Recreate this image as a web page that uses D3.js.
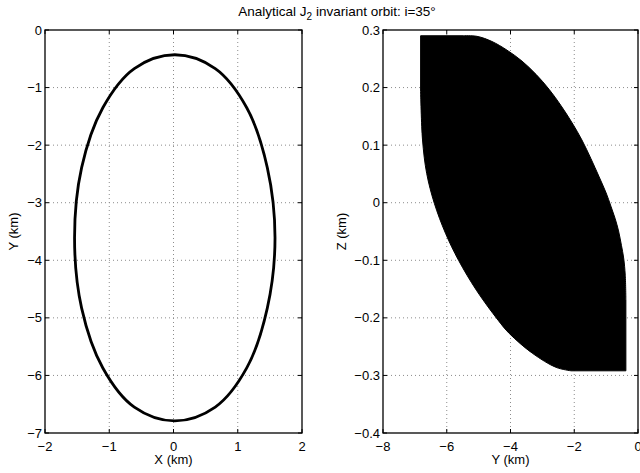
<!doctype html>
<meta charset="utf-8">
<title>Analytical J2 invariant orbit</title>
<style>
    html, body { margin: 0; background: white; }
    svg { display: block; font-family: "Liberation Sans", Arial, Helvetica, sans-serif; }
    .grid line { stroke: #8c8c8c; stroke-dasharray: 1,3; stroke-width: 1; }
    .tick-label { font-size: 13px; fill: black; }
    .axis-label { font-size: 13px; fill: black; }
    .title { font-size: 13.5px; fill: black; }
</style>
<svg width=640 height=473></svg>
<script src="https://d3js.org/d3.v7.min.js"></script>
<script>
    // left panel: X vs Y orbit (km)
    var orbitX = [1.58, 1.46, 1.14, 0.65, 0.02, -0.61, -1.10, -1.43, -1.54, -1.43, -1.10, -0.61, 0.02, 0.65, 1.14, 1.46];
    var orbitY = [-3.61, -2.39, -1.35, -0.67, -0.43, -0.67, -1.35, -2.39, -3.61, -4.83, -5.87, -6.55, -6.79, -6.55, -5.87, -4.83];

    // right panel: outline of the filled Y vs Z band (km)
    // top-left corner, then the upper-right edge (curved)
    var bandTopY = [-6.82, -5.49, -5.05, -4.58, -4.11, -3.64, -3.20, -2.79, -2.42, -2.07, -1.76, -1.48,
                    -1.22, -1.00, -0.85, -0.72, -0.61, -0.52, -0.45, -0.40, -0.38];
    var bandTopZ = [0.290, 0.290, 0.289, 0.280, 0.265, 0.246, 0.223, 0.197, 0.169, 0.139, 0.109, 0.077,
                    0.045, 0.017, -0.006, -0.027, -0.049, -0.074, -0.096, -0.126, -0.169];
    // bottom-right corner, then the lower-left edge (curved) back up to the left side
    var bandLowY = [-0.38, -2.10, -2.57, -3.30, -4.04, -4.39, -5.07, -5.63, -6.04, -6.39, -6.63, -6.76, -6.82];
    var bandLowZ = [-0.292, -0.292, -0.286, -0.262, -0.227, -0.204, -0.152, -0.100, -0.053, -0.001, 0.051, 0.109, 0.193];

    var leftXTicks = [-2, -1, 0, 1, 2];
    var leftYTicks = [0, -1, -2, -3, -4, -5, -6, -7];
    var rightYTicks = [-8, -6, -4, -2, 0];
    var rightZTicks = [0.3, 0.2, 0.1, 0, -0.1, -0.2, -0.3, -0.4];

    var titleMain = 'Analytical J';
    var titleSub = '2';
    var titleRest = ' invariant orbit: i=35°';

    var svg = d3.select('svg');
    var plotTop = 30, plotBottom = 433;

    var fmtMinus = function (d) { return String(d).replace('-', '\u2212'); };
    var fmtZ = function (d) { return d === 0 ? '0' : d3.format('.1f')(d).replace('-', '\u2212'); };

    function panel(opts) {
        var x = d3.scaleLinear().domain(opts.xDomain).range([opts.left, opts.right]);
        var y = d3.scaleLinear().domain(opts.yDomain).range([plotBottom, plotTop]);
        var g = svg.append('g');

        // grid
        var grid = g.append('g').attr('class', 'grid');
        grid.selectAll('.gx').data(opts.xTicks.slice(1, -1)).enter().append('line')
            .attr('x1', x).attr('x2', x).attr('y1', plotTop).attr('y2', plotBottom);
        grid.selectAll('.gy').data(opts.yTicks.filter(function (d) {
            return d !== opts.yDomain[0] && d !== opts.yDomain[1];
        })).enter().append('line')
            .attr('y1', y).attr('y2', y).attr('x1', opts.left).attr('x2', opts.right);

        opts.draw(g, x, y);

        // box
        g.append('rect')
            .attr('x', opts.left).attr('y', plotTop)
            .attr('width', opts.right - opts.left).attr('height', plotBottom - plotTop)
            .attr('fill', 'none').attr('stroke', 'black').attr('stroke-width', 1.3);

        // inward ticks on all four sides
        var tl = 4;
        var ticks = g.append('g').attr('stroke', 'black').attr('stroke-width', 1);
        opts.xTicks.forEach(function (d) {
            ticks.append('line').attr('x1', x(d)).attr('x2', x(d)).attr('y1', plotBottom).attr('y2', plotBottom - tl);
            ticks.append('line').attr('x1', x(d)).attr('x2', x(d)).attr('y1', plotTop).attr('y2', plotTop + tl);
        });
        opts.yTicks.forEach(function (d) {
            ticks.append('line').attr('y1', y(d)).attr('y2', y(d)).attr('x1', opts.left).attr('x2', opts.left + tl);
            ticks.append('line').attr('y1', y(d)).attr('y2', y(d)).attr('x1', opts.right).attr('x2', opts.right - tl);
        });

        // tick labels
        g.selectAll('.xl').data(opts.xTicks).enter().append('text')
            .attr('class', 'tick-label')
            .attr('x', x).attr('y', plotBottom + 17.5)
            .attr('text-anchor', 'middle')
            .text(opts.xFormat);
        g.selectAll('.yl').data(opts.yTicks).enter().append('text')
            .attr('class', 'tick-label')
            .attr('x', opts.left - 3).attr('y', y).attr('dy', '0.35em')
            .attr('text-anchor', 'end')
            .text(opts.yFormat);

        // axis labels
        g.append('text').attr('class', 'axis-label')
            .attr('x', (opts.left + opts.right) / 2).attr('y', plotBottom + 31)
            .attr('text-anchor', 'middle').text(opts.xLabel);
        g.append('text').attr('class', 'axis-label')
            .attr('transform', 'translate(' + opts.yLabelX + ',' + (plotTop + plotBottom) / 2 + ') rotate(-90)')
            .attr('text-anchor', 'middle').text(opts.yLabel);
    }

    panel({
        left: 45, right: 302,
        xDomain: [-2, 2], yDomain: [-7, 0],
        xTicks: leftXTicks, yTicks: leftYTicks,
        xFormat: fmtMinus, yFormat: fmtMinus,
        xLabel: 'X (km)', yLabel: 'Y (km)', yLabelX: 18,
        draw: function (g, x, y) {
            var pts = orbitX.map(function (d, i) { return [d, orbitY[i]]; });
            g.append('path')
                .attr('d', d3.line().curve(d3.curveCatmullRomClosed.alpha(0.5))
                    .x(function (d) { return x(d[0]); })
                    .y(function (d) { return y(d[1]); })(pts))
                .attr('fill', 'none').attr('stroke', 'black').attr('stroke-width', 2.8);
        }
    });

    panel({
        left: 383, right: 638,
        xDomain: [-8, 0], yDomain: [-0.4, 0.3],
        xTicks: rightYTicks, yTicks: rightZTicks,
        xFormat: fmtMinus, yFormat: fmtZ,
        xLabel: 'Y (km)', yLabel: 'Z (km)', yLabelX: 346,
        draw: function (g, x, y) {
            var curved = d3.line().curve(d3.curveCatmullRom.alpha(0.5))
                .x(function (d) { return x(d[0]); })
                .y(function (d) { return y(d[1]); });
            var upper = bandTopY.map(function (d, i) { return [d, bandTopZ[i]]; });
            var lower = bandLowY.map(function (d, i) { return [d, bandLowZ[i]]; });
            // corner, upper curve, straight down the right side and bottom, lower curve, back up the left side
            var start = 'M' + x(upper[0][0]) + ',' + y(upper[0][1]);
            var up = curved(upper.slice(1)).replace(/^M/, 'L');
            var corner = 'L' + x(lower[0][0]) + ',' + y(lower[0][1]);
            var low = curved(lower.slice(1)).replace(/^M/, 'L');
            g.append('path')
                .attr('d', start + up + corner + low + 'Z')
                .attr('fill', 'black').attr('stroke', 'black').attr('stroke-width', 1);
        }
    });

    // title
    var title = svg.append('text').attr('class', 'title')
        .attr('x', 337).attr('y', 16).attr('text-anchor', 'middle');
    title.append('tspan').text(titleMain);
    title.append('tspan').attr('dy', 3.5).style('font-size', '10px').text(titleSub);
    title.append('tspan').attr('dy', -3.5).text(titleRest);
</script>
